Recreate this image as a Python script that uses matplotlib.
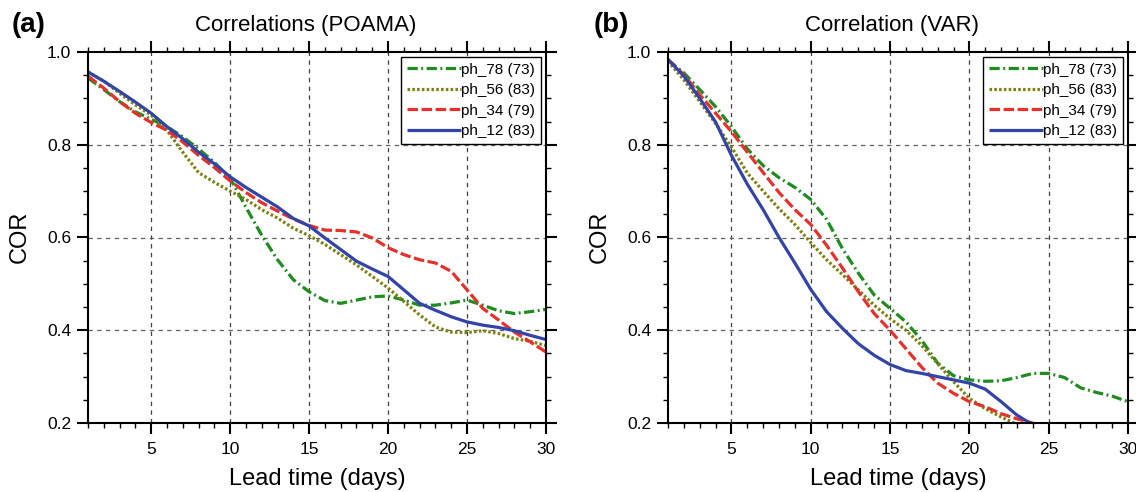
import numpy as np
import matplotlib
matplotlib.use("Agg")
import matplotlib.pyplot as plt
from matplotlib.ticker import MultipleLocator, FixedLocator

plt.rcParams['font.family'] = ['Liberation Sans', 'DejaVu Sans']

days = list(range(1, 31))
labels = ["ph_78 (73)", "ph_56 (83)", "ph_34 (79)", "ph_12 (83)"]

# Panel (a) POAMA
poama_ph78 = [0.944, 0.919, 0.893, 0.871, 0.855, 0.839, 0.817, 0.791, 0.762, 0.728,
              0.665, 0.605, 0.552, 0.509, 0.483, 0.464, 0.458, 0.465, 0.472, 0.474,
              0.465, 0.454, 0.454, 0.459, 0.465, 0.454, 0.442, 0.436, 0.440, 0.445]
poama_ph56 = [0.957, 0.937, 0.911, 0.886, 0.864, 0.831, 0.784, 0.740, 0.719, 0.700,
              0.682, 0.660, 0.642, 0.620, 0.604, 0.585, 0.563, 0.541, 0.516, 0.491,
              0.462, 0.433, 0.407, 0.396, 0.395, 0.399, 0.393, 0.382, 0.376, 0.367]
poama_ph34 = [0.948, 0.922, 0.893, 0.868, 0.848, 0.831, 0.806, 0.777, 0.751, 0.722,
              0.697, 0.675, 0.657, 0.640, 0.626, 0.616, 0.615, 0.612, 0.599, 0.578,
              0.563, 0.552, 0.545, 0.527, 0.487, 0.447, 0.422, 0.396, 0.375, 0.353]
poama_ph12 = [0.957, 0.937, 0.915, 0.892, 0.868, 0.839, 0.813, 0.784, 0.759, 0.731,
              0.708, 0.687, 0.666, 0.641, 0.625, 0.599, 0.574, 0.549, 0.532, 0.516,
              0.487, 0.458, 0.443, 0.429, 0.418, 0.411, 0.406, 0.399, 0.389, 0.380]

# Panel (b) VAR
var_ph78 = [0.982, 0.955, 0.919, 0.882, 0.839, 0.791, 0.755, 0.729, 0.708, 0.682,
            0.639, 0.576, 0.523, 0.476, 0.447, 0.418, 0.378, 0.329, 0.302, 0.293,
            0.290, 0.291, 0.298, 0.307, 0.307, 0.298, 0.276, 0.266, 0.258, 0.246]
var_ph56 = [0.980, 0.940, 0.893, 0.846, 0.795, 0.739, 0.700, 0.662, 0.628, 0.589,
            0.552, 0.520, 0.487, 0.454, 0.425, 0.400, 0.367, 0.328, 0.289, 0.253,
            0.231, 0.213, 0.197, np.nan, np.nan, np.nan, np.nan, np.nan, np.nan, np.nan]
var_ph34 = [0.984, 0.951, 0.908, 0.868, 0.828, 0.784, 0.740, 0.697, 0.660, 0.628,
            0.583, 0.534, 0.483, 0.436, 0.400, 0.360, 0.320, 0.286, 0.264, 0.246,
            0.235, 0.220, 0.209, 0.200, np.nan, np.nan, np.nan, np.nan, np.nan, np.nan]
var_ph12 = [0.984, 0.948, 0.900, 0.849, 0.777, 0.715, 0.660, 0.600, 0.545, 0.488,
            0.440, 0.404, 0.371, 0.346, 0.326, 0.313, 0.307, 0.300, 0.293, 0.286,
            0.273, 0.246, 0.217, 0.196, np.nan, np.nan, np.nan, np.nan, np.nan, np.nan]

colors = ['#1e8c1e', '#808010', '#e8302a', '#3344a8']
styles = [(0, (3.2, 1.1, 0.6, 1.1)), (0, (0.8, 0.7)), (0, (3.3, 1.1)), '-']

W, H = 1136, 492
fig = plt.figure(figsize=(W / 100, H / 100), dpi=100)

def px_axes(x0, x1, y0, y1):
    return fig.add_axes([x0 / W, 1 - y1 / H, (x1 - x0) / W, (y1 - y0) / H])

panels = [
    dict(box=(88, 546, 52, 423), series=[poama_ph78, poama_ph56, poama_ph34, poama_ph12],
         tag="(a)", tagx=12, title="Correlations (POAMA)", titlex=306, corx=20),
    dict(box=(668, 1128, 52, 423), series=[var_ph78, var_ph56, var_ph34, var_ph12],
         tag="(b)", tagx=594, title="Correlation (VAR)", titlex=892, corx=600),
]

for p in panels:
    x0, x1, y0, y1 = p['box']
    ax = px_axes(x0, x1, y0, y1)
    for vals, c, ls, lab in zip(p['series'], colors, styles, labels):
        ax.plot(days, vals, color=c, linestyle=ls, lw=2.3, label=lab,
                solid_capstyle='butt', dash_capstyle='butt')
    ax.set_xlim(1, 30)
    ax.set_ylim(0.2, 1.0)
    ax.xaxis.set_major_locator(FixedLocator([5, 10, 15, 20, 25, 30]))
    ax.xaxis.set_minor_locator(MultipleLocator(1))
    ax.yaxis.set_major_locator(MultipleLocator(0.2))
    ax.yaxis.set_minor_locator(MultipleLocator(0.05))
    ax.yaxis.set_major_formatter(matplotlib.ticker.FormatStrFormatter('%.1f'))
    ax.tick_params(which='both', direction='out', top=True, right=True,
                   labeltop=False, labelright=False, labelsize=12.5, colors='black')
    ax.tick_params(which='major', length=8, width=1.5)
    ax.tick_params(which='minor', length=3.8, width=1.0)
    ax.tick_params(axis='x', which='major', pad=6)
    ax.tick_params(axis='y', which='major', pad=4)
    for s in ax.spines.values():
        s.set_linewidth(1.5)
    for xv in [5, 10, 15, 20, 25]:
        ax.axvline(xv, color='#404040', lw=0.9, linestyle=(0, (3.5, 3.5)), zorder=0)
    for yv in [0.4, 0.6, 0.8]:
        ax.axhline(yv, color='#606060', lw=0.9, linestyle=(0, (3.5, 3.5)), zorder=0)
    leg = ax.legend(loc='upper right', bbox_to_anchor=(1, 1), borderaxespad=0.3,
                    fontsize=11, handlelength=3.5, handletextpad=0.05,
                    labelspacing=0.42, borderpad=0.4, fancybox=False, framealpha=1,
                    edgecolor='black')
    leg.get_frame().set_linewidth(1.0)
    cx = (x0 + x1) / 2
    fig.text(p['tagx'] / W, 1 - 25 / H, p['tag'], fontsize=20, fontweight='bold',
             ha='left', va='center')
    fig.text(p['titlex'] / W, 1 - 25 / H, p['title'], fontsize=16, ha='center', va='center')
    fig.text(p['corx'] / W, 1 - 237 / H, "COR", fontsize=17, rotation=90,
             ha='center', va='center')
    fig.text(cx / W, 1 - 479 / H, "Lead time (days)", fontsize=17, ha='center', va='center')

fig.savefig("out.png", dpi=100)
